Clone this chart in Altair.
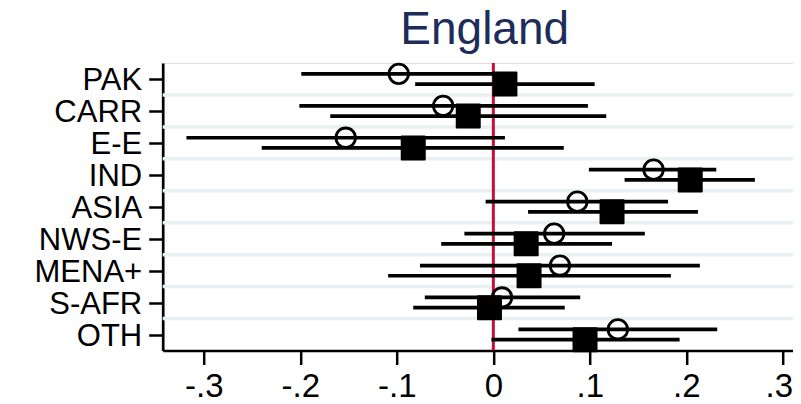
import altair as alt
import pandas as pd

# ---- data ----
cats = ["PAK", "CARR", "E-E", "IND", "ASIA", "NWS-E", "MENA+", "S-AFR", "OTH"]
circ_est = [-0.098, -0.052, -0.153, 0.166, 0.087, 0.063, 0.069, 0.009, 0.129]
circ_lo = [-0.199, -0.201, -0.318, 0.099, -0.008, -0.030, -0.076, -0.071, 0.026]
circ_hi = [0.005, 0.098, 0.012, 0.231, 0.181, 0.157, 0.214, 0.090, 0.232]
sq_est = [0.012, -0.026, -0.083, 0.204, 0.123, 0.034, 0.037, -0.004, 0.095]
sq_lo = [-0.081, -0.169, -0.240, 0.136, 0.036, -0.054, -0.109, -0.083, -0.002]
sq_hi = [0.105, 0.117, 0.073, 0.271, 0.212, 0.123, 0.184, 0.074, 0.193]
x_ticks = [-0.3, -0.2, -0.1, 0.0, 0.1, 0.2, 0.3]
title_text = "England"

# ---- tables ----
OFF = 0.16
idx = list(range(1, len(cats) + 1))
circ = pd.DataFrame({"cat": cats, "i": idx, "est": circ_est, "lo": circ_lo, "hi": circ_hi})
circ["pos"] = circ["i"] - OFF
sq = pd.DataFrame({"cat": cats, "i": idx, "est": sq_est, "lo": sq_lo, "hi": sq_hi})
sq["pos"] = sq["i"] + OFF
grid = pd.DataFrame({"g": [i + 0.5 for i in idx[:-1]]})
zero = pd.DataFrame({"z": [0.0]})
ttl = pd.DataFrame({"t": [title_text]})

FONT = "Liberation Sans"
W, H = 630.3, 287.5
xscale = alt.Scale(domain=[-0.3426, 0.3105], nice=False, zero=False)
yscale = alt.Scale(domain=[0.5, len(cats) + 0.5], reverse=True, nice=False, zero=False)

label_arr = "[" + ",".join("'" + c + "'" for c in cats) + "]"

xaxis = alt.Axis(
    values=x_ticks,
    labelExpr="datum.value == 0 ? '0' : (datum.value < 0 ? '-' : '') + replace(format(abs(datum.value), '.1f'), '0.', '.')",
    title=None, grid=False, domainColor="black", domainWidth=2.7,
    tickColor="black", tickWidth=2.5, tickSize=14,
    labelFont=FONT, labelFontSize=33, labelColor="black",
    labelBaseline="alphabetic", labelPadding=32, labelFlush=False, labelOverlap=False,
    labelOffset={"condition": {"test": "datum.value > 0.25", "value": -4}, "value": 0},
)
yaxis = alt.Axis(
    values=idx,
    labelExpr=label_arr + "[datum.value - 1]",
    title=None, grid=False, domainColor="black", domainWidth=2.7,
    tickColor="black", tickWidth=2.5, tickSize=14,
    labelFont=FONT, labelFontSize=31, labelColor="black",
    labelPadding=7, labelOffset=2, labelOverlap=False, labelFlush=False,
)

def X(field):
    return alt.X(field, scale=xscale, axis=xaxis)

def Y(field):
    return alt.Y(field, scale=yscale, axis=yaxis)

gridlines = alt.Chart(grid).mark_rule(color="#e8f0f1", strokeWidth=3.5).encode(y=Y("g:Q"))
zline = alt.Chart(zero).mark_rule(color="#c41038", strokeWidth=3).encode(x=X("z:Q"))

def ci(df):
    return alt.Chart(df).mark_rule(color="black", strokeWidth=3.7, strokeCap="butt").encode(
        x=X("lo:Q"), x2="hi:Q", y=Y("pos:Q"),
    )

circles = alt.Chart(circ).mark_point(
    shape="circle", filled=False, size=380, strokeWidth=2.8, color="black", opacity=1
).encode(x=X("est:Q"), y=Y("pos:Q"))

squares = alt.Chart(sq).mark_point(
    shape="square", filled=True, size=529, fill="black", stroke="black",
    strokeWidth=2, strokeJoin="round", opacity=1
).encode(x=X("est:Q"), y=Y("pos:Q"))

title_mark = alt.Chart(ttl).mark_text(
    font=FONT, fontSize=46, color="#1c2d5a", align="center", baseline="alphabetic"
).encode(x=alt.value(322), y=alt.value(-19.5), text="t:N")

chart = alt.layer(gridlines, zline, ci(circ), ci(sq), circles, squares, title_mark).properties(
    width=W,
    height=H,
    autosize=alt.AutoSizeParams(type="none"),
    padding={"left": 154.7, "top": 55, "right": 0, "bottom": 53.5},
).configure_view(stroke=None).configure_axis(labelOverlap=False).configure(background="white")

chart.save("out.html", embed_options={"renderer": "svg", "actions": False})
